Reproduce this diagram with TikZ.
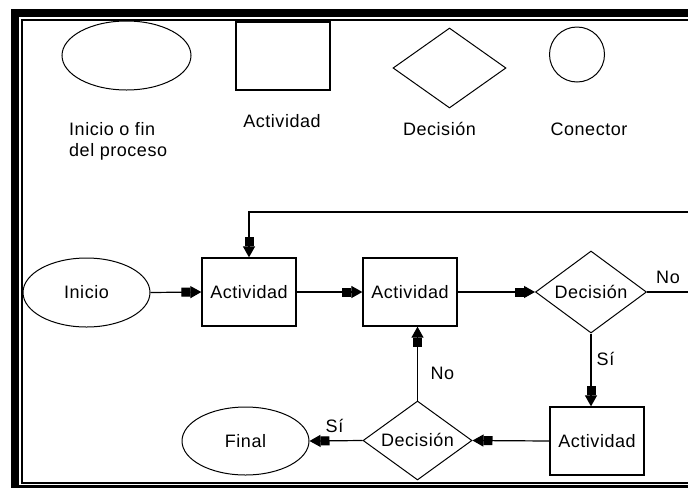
\documentclass[tikz,border=0pt]{standalone}
\usepackage{fontspec}
\setmainfont{Liberation Sans}[LetterSpace=3]
\usetikzlibrary{shapes.geometric,arrows.meta}
\begin{document}
\begin{tikzpicture}[x=1pt,y=-1pt,
  font=\fontsize{18}{21}\selectfont,
  lbl/.style={inner sep=0pt, text height=12.9pt, text depth=0pt},
  box/.style={draw, line width=1.3pt, minimum width=94pt, minimum height=68pt, inner sep=0pt, lbl},
  oval/.style={draw, ellipse, line width=1pt, minimum width=127pt, minimum height=68pt, inner sep=0pt, lbl},
  dec/.style={draw, diamond, aspect=1.35, line width=1pt, inner sep=0pt, lbl},
  conn/.style={line width=1.2pt, -{Rectangle[length=9pt,width=9pt]Triangle[length=11pt,width=12pt]}}]
\useasboundingbox (0,0) rectangle (688,488);
\clip (0,0) rectangle (688,488);
% frame
\fill[black] (11,9) rectangle (688,17);
\fill[black] (11,9) rectangle (19,488);
\fill[black] (11,485) rectangle (688,488);
\draw[line width=2pt] (688,20) -- (22,20) -- (22,482.5) -- (688,482.5);
% legend
\node[oval, minimum width=129pt, minimum height=69pt] (lo) at (126.5,55.5) {};
\node[box] (lb) at (283,56) {};
\node[dec, minimum width=113pt, minimum height=80pt] (ld) at (449.5,68) {};
\node[draw, circle, line width=1pt, minimum size=55pt, inner sep=0pt] (lc) at (577,54.5) {};
\node[align=left, anchor=base west, inner sep=0pt] (tlo) at (69,156) {Inicio o fin\\del proceso};
\node[lbl] (tlb) at (282,121) {Actividad};
\node[lbl] (tld) at (439.5,129) {Decisión};
\node[lbl] (tlc) at (589,129) {Conector};
% main flow
\node[oval, minimum height=69pt] (ini) at (86.5,292.5) {Inicio};
\node[box] (a1) at (249,292) {Actividad};
\node[box] (a2) at (410,292) {Actividad};
\node[dec, minimum width=111pt, minimum height=82pt] (d1) at (591,292) {Decisión};
\node[box] (a3) at (597,441) {Actividad};
\node[dec, minimum width=109pt, minimum height=79pt] (d2) at (417.5,440.5) {Decisión};
\node[oval] (fin) at (245.5,441) {Final};
% connectors
\draw[conn] (ini.east) -- (a1.west);
\draw[conn] (a1.east) -- (a2.west);
\draw[conn] (a2.east) -- (d1.west);
\draw[conn] (d1.east) -- (700,292) -- (700,212) -| (a1.north);
\draw[conn] (d1.south) -- (d1.south |- a3.north);
\draw[conn] (a3.west) -- (d2.east);
\draw[conn] (d2.north) -- (d2.north |- a2.south);
\draw[conn] (d2.west) -- (fin.east);
% edge labels
\node[lbl] (n1) at (668,277.5) {No};
\node[lbl] (s1) at (605.5,359.5) {Sí};
\node[lbl] (n2) at (442.5,373.5) {No};
\node[lbl] (s2) at (334.5,426.5) {Sí};
\end{tikzpicture}
\end{document}
